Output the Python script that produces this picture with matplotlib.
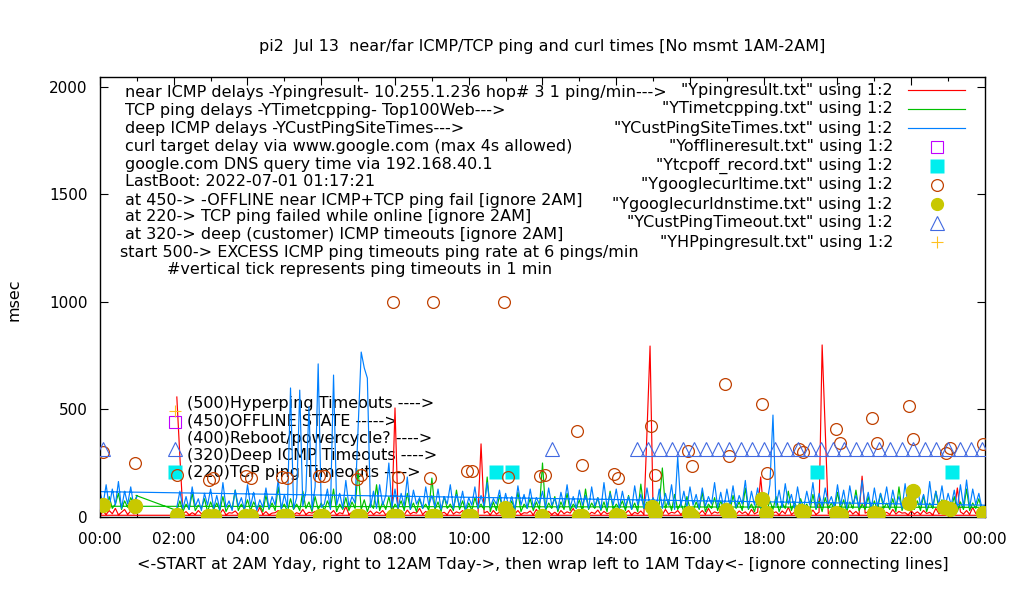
import numpy as np
import matplotlib
matplotlib.use("Agg")
import matplotlib.pyplot as plt
from matplotlib.ticker import MultipleLocator

# ---- data (hours of day, msec) ----
# dense traces sampled every 5 min: 02:05 -> 24:00, then wrap 00:00 -> 01:00
red_day = [
    558, 280, 15, 25, 10, 20, 12, 30, 15, 22, 10, 18,
    12, 25, 15, 35, 10, 20, 18, 28, 12, 22, 15, 30,
    10, 20, 15, 45, 12, 25, 10, 18, 20, 30, 12, 22,
    15, 28, 10, 20, 14, 35, 12, 22, 18, 26, 10, 20,
    12, 24, 16, 30, 10, 20, 15, 50, 12, 22, 18, 26,
    10, 20, 14, 28, 12, 24, 16, 30, 10, 22, 20, 507,
    15, 25, 10, 32, 14, 22, 18, 40, 12, 26, 15, 20,
    12, 28, 16, 22, 10, 35, 14, 24, 18, 30, 12, 22,
    15, 20, 12, 340, 18, 26, 10, 30, 14, 22, 16, 45,
    10, 24, 15, 30, 12, 20, 18, 28, 10, 35, 14, 22,
    16, 26, 12, 22, 10, 30, 15, 24, 18, 40, 12, 20,
    14, 28, 10, 22, 16, 32, 12, 26, 15, 20, 10, 30,
    12, 24, 18, 30, 10, 22, 15, 28, 12, 395, 795, 20,
    15, 26, 10, 35, 14, 22, 18, 30, 12, 24, 16, 28,
    10, 22, 15, 30, 12, 40, 14, 24, 18, 26, 10, 32,
    14, 20, 12, 28, 16, 24, 10, 35, 15, 22, 186, 26,
    12, 30, 18, 24, 10, 28, 15, 45, 12, 22, 16, 30,
    10, 26, 14, 32, 12, 22, 800, 414, 15, 28, 10, 24,
    16, 22, 12, 30, 14, 26, 10, 190, 18, 24, 12, 28,
    10, 30, 15, 22, 12, 35, 14, 26, 18, 20, 10, 28,
    14, 24, 12, 30, 16, 22, 10, 40, 15, 26, 12, 22,
    10, 28, 135, 24, 14, 30, 12, 45, 16, 22, 10, 8,
]
red_wrap = [8, 25, 12, 30, 15, 40, 10, 22, 35, 12, 28, 15, 20]

green_lead_t = [0.98]
green_lead_v = [100]
green_day = [
    30, 75, 25, 60, 35, 110, 30, 55, 40, 85, 25, 70,
    35, 65, 30, 95, 25, 55, 40, 125, 30, 60, 35, 80,
    30, 70, 40, 55, 25, 100, 35, 65, 30, 140, 40, 60,
    25, 85, 35, 60, 30, 120, 40, 70, 25, 95, 35, 65,
    30, 75, 40, 130, 25, 60, 35, 90, 30, 70, 40, 219,
    35, 80, 25, 65, 40, 150, 30, 70, 35, 95, 25, 60,
    40, 75, 30, 110, 35, 65, 25, 85, 40, 60, 30, 181,
    35, 70, 25, 95, 40, 60, 30, 125, 35, 75, 25, 65,
    30, 90, 40, 60, 35, 186, 25, 70, 30, 100, 40, 65,
    35, 75, 30, 115, 25, 60, 40, 85, 30, 70, 35, 251,
    30, 65, 40, 95, 25, 70, 35, 110, 30, 60, 40, 80,
    25, 130, 35, 65, 40, 90, 30, 70, 25, 120, 35, 60,
    40, 75, 30, 100, 35, 65, 25, 153, 40, 70, 30, 85,
    35, 60, 228, 40, 80, 30, 105, 35, 65, 25, 95, 40,
    30, 70, 35, 115, 25, 60, 40, 90, 30, 75, 35, 65,
    25, 100, 40, 70, 30, 135, 35, 60, 25, 85, 40, 110,
    30, 75, 35, 95, 25, 65, 40, 120, 30, 70, 35, 85,
    40, 60, 30, 105, 35, 75, 25, 90, 40, 65, 30, 115,
    35, 80, 25, 70, 40, 125, 30, 60, 35, 95, 25, 75,
    30, 110, 40, 65, 35, 85, 25, 140, 30, 70, 40, 90,
    35, 75, 30, 100, 25, 65, 40, 120, 35, 80, 30, 60,
    40, 95, 25, 70, 35, 130, 30, 65, 40, 85, 30, 45,
]
green_wrap = [50, 70, 30, 95, 40, 60, 110, 35, 75, 45, 90, 60, 100]

blue_day = [
    45, 120, 40, 95, 35, 140, 50, 85, 30, 110, 55, 130,
    40, 100, 35, 160, 45, 75, 30, 125, 50, 90, 35, 150,
    50, 115, 30, 80, 45, 135, 40, 95, 55, 175, 35, 105,
    45, 600, 40, 90, 590, 50, 120, 512, 35, 140, 712, 45,
    60, 130, 35, 660, 55, 110, 40, 170, 50, 95, 65, 414,
    767, 693, 646, 45, 120, 40, 150, 55, 100, 251, 45, 130,
    40, 110, 50, 186, 35, 125, 60, 90, 40, 140, 55, 100,
    45, 130, 35, 95, 60, 150, 40, 105, 50, 120, 35, 90,
    55, 140, 40, 100, 50, 160, 45, 85, 60, 125, 40, 110,
    50, 95, 35, 145, 55, 105, 40, 130, 45, 90, 60, 120,
    40, 135, 55, 85, 35, 115, 50, 150, 45, 95, 40, 125,
    55, 100, 40, 140, 50, 90, 35, 160, 45, 110, 55, 130,
    40, 120, 50, 95, 35, 145, 55, 105, 40, 135, 50, 90,
    45, 130, 40, 110, 55, 150, 35, 280, 50, 120, 45, 140,
    55, 105, 40, 135, 50, 95, 60, 160, 45, 115, 40, 130,
    50, 145, 45, 100, 60, 170, 40, 120, 55, 135, 45, 110,
    60, 150, 474, 50, 125, 45, 155, 60, 105, 40, 140, 55,
    45, 120, 55, 160, 40, 110, 50, 135, 60, 95, 45, 150,
    55, 125, 40, 145, 60, 100, 45, 170, 50, 115, 40, 135,
    50, 110, 60, 140, 45, 125, 55, 95, 40, 155, 50, 120,
    45, 135, 55, 105, 40, 165, 50, 120, 60, 145, 45, 110,
    55, 125, 40, 150, 50, 172, 45, 130, 60, 110, 40, 55,
]
blue_wrap = [118, 60, 150, 45, 130, 55, 165, 40, 120, 60, 140, 50, 95]

offline_t = [2.03]
offline_v = [442]

tcpoff_t = [2.03, 10.75, 11.16, 19.44, 23.10]
tcpoff_v = [209, 209, 209, 209, 209]

curl_t = [0.08, 0.95, 2.09, 2.96, 3.06, 3.96, 4.09, 4.94, 5.07, 5.94, 6.07,
          6.97, 7.08, 7.95, 8.08, 8.95, 9.03, 9.95, 10.09, 10.96, 11.07,
          11.93, 12.07, 12.94, 13.07, 13.94, 14.05, 14.94, 15.05, 15.95,
          16.05, 16.95, 17.06, 17.95, 18.09, 18.95, 19.06, 19.96, 20.07,
          20.94, 21.07, 21.94, 22.05, 22.94, 23.05, 23.95]
curl_v = [302, 251, 195, 172, 181, 191, 181, 186, 181, 191, 191,
          177, 195, 1000, 186, 181, 1000, 214, 214, 1000, 186,
          191, 195, 400, 242, 200, 181, 423, 195, 307,
          237, 619, 284, 526, 205, 316, 302, 409, 344,
          460, 344, 516, 363, 298, 321, 340]

dns_t = [0.07, 0.95, 2.08, 2.93, 3.10, 3.93, 4.10, 4.96, 5.08, 5.97, 6.05,
         6.97, 7.06, 7.95, 8.05, 9.00, 9.08, 9.98, 10.07, 10.98, 11.07,
         12.00, 12.99, 13.08, 14.00, 14.08, 14.97, 15.05, 15.97, 16.05,
         16.98, 17.07, 17.95, 18.05, 19.00, 19.10, 19.97, 20.10, 21.00,
         21.10, 21.94, 22.05, 22.90, 23.05, 23.95]
dns_v = [56, 51, 10, 5, 5, 5, 5, 5, 5, 5, 5,
         5, 5, 5, 5, 5, 5, 5, 5, 40, 18,
         5, 5, 5, 10, 5, 45, 18, 18, 5,
         32, 10, 83, 18, 30, 25, 18, 10, 20,
         15, 64, 120, 47, 37, 18]

custto_t = [0.08, 2.03, 12.26,
            14.56, 14.87, 15.18, 15.50, 15.81, 16.12, 16.43, 16.75, 17.06,
            17.37, 17.68, 18.00, 18.31, 18.62, 18.93, 19.25, 19.56, 19.87,
            20.18, 20.50, 20.81, 21.12, 21.43, 21.75, 22.06, 22.37, 22.68,
            23.00, 23.31, 23.62, 23.93]
custto_v = [316] * len(custto_t)

hp_t = [2.03]
hp_v = [493]

note_lines = [
    "near ICMP delays -Ypingresult- 10.255.1.236 hop# 3 1 ping/min--->",
    "TCP ping delays -YTimetcpping- Top100Web--->",
    "deep ICMP delays -YCustPingSiteTimes--->",
    "curl target delay via www.google.com (max 4s allowed)",
    "google.com DNS query time via 192.168.40.1",
    "LastBoot: 2022-07-01 01:17:21",
    "at 450-> -OFFLINE near ICMP+TCP ping fail [ignore 2AM]",
    "at 220-> TCP ping failed while online [ignore 2AM]",
    "at 320-> deep (customer) ICMP timeouts [ignore 2AM]",
    "start 500-> EXCESS ICMP ping timeouts ping rate at 6 pings/min",
    "#vertical tick represents ping timeouts in 1 min",
]
note_x = [125, 125, 125, 125, 125, 125, 125, 125, 125, 120, 167]
note_y = [92, 111, 129, 147, 164, 182, 200, 217, 235, 252, 269]

marker_labels = ["(500)Hyperping Timeouts ---->", "(450)OFFLINE STATE ----->",
                 "(400)Reboot/powercycle? ---->", "(320)Deep ICMP Timeouts ---->",
                 "(220)TCP ping Timeouts ---->"]
marker_label_v = [526, 446, 367, 284, 205]

# ---- build time axes ----
step = 5 / 60
day_t = 2 + step * np.arange(1, len(red_day) + 1)
wrap_t = step * np.arange(len(red_wrap))
red_t = np.concatenate([day_t, wrap_t])
red_v = red_day + red_wrap
green_t = np.concatenate([green_lead_t, day_t, wrap_t])
green_v = green_lead_v + green_day + green_wrap
blue_t = np.concatenate([day_t, wrap_t])
blue_v = blue_day + blue_wrap

C_RED = "#ff0000"
C_GREEN = "#00c000"
C_BLUE = "#0080ff"
C_MAG = "#c000ff"
C_CYAN = "#00eeee"
C_BROWN = "#c04000"
C_YEL = "#c8c800"
C_ROYAL = "#4169e1"
C_ORANGE = "#ffc020"

FS = 11.5

plt.rcParams["font.family"] = "DejaVu Sans"
W, H = 1020, 600
fig = plt.figure(figsize=(W / 100, H / 100), dpi=100)
L, R, T, B = 100, 985, 77, 517
ax = fig.add_axes([L / W, 1 - B / H, (R - L) / W, (B - T) / H])

# labels placed in data space (drawn below the traces)
for txt, v in zip(marker_labels, marker_label_v):
    ax.text(2.36, v, txt, fontsize=FS, va="center", ha="left", zorder=1)

lw = 0.85
ax.plot(red_t, red_v, color=C_RED, lw=lw, zorder=2)
ax.plot(green_t, green_v, color=C_GREEN, lw=lw, zorder=2)
ax.plot(blue_t, blue_v, color=C_BLUE, lw=lw, zorder=2)
ax.plot(offline_t, offline_v, ls="none", marker="s", ms=8.5, mfc="none",
        mec=C_MAG, mew=0.8, zorder=3)
ax.plot(tcpoff_t, tcpoff_v, ls="none", marker="s", ms=10, mfc=C_CYAN,
        mec="none", zorder=3)
ax.plot(curl_t, curl_v, ls="none", marker="o", ms=8.5, mfc="none",
        mec=C_BROWN, mew=0.9, zorder=3)
ax.plot(dns_t, dns_v, ls="none", marker="o", ms=10, mfc=C_YEL,
        mec=C_YEL, zorder=3)
ax.plot(custto_t, custto_v, ls="none", marker="^", ms=10.5, mfc="none",
        mec=C_ROYAL, mew=0.8, zorder=3)
ax.plot(hp_t, hp_v, ls="none", marker="+", ms=9, mec=C_ORANGE, mew=0.8,
        zorder=3)

ax.set_xlim(0, 24)
ax.set_ylim(0, 2046)
ax.xaxis.set_minor_locator(MultipleLocator(1))
ax.yaxis.set_major_locator(MultipleLocator(500))
ax.set_xticks(range(0, 25, 2))
ax.set_xticklabels(["%02d:00" % (h % 24) for h in range(0, 25, 2)])
ax.tick_params(which="major", direction="in", length=6, width=0.8,
               top=True, right=True, labelsize=11, pad=9)
ax.tick_params(which="minor", direction="in", length=3, width=0.8,
               top=True, right=False, left=False)
ax.tick_params(axis="x", pad=11)
for s in ax.spines.values():
    s.set_linewidth(1.0)

# notes at upper left
for txt, x, y in zip(note_lines, note_x, note_y):
    ax.text((x - L) / (R - L), (B - y) / (B - T), txt, transform=ax.transAxes,
            fontsize=FS, ha="left", va="center", zorder=1)

# key at upper right
key = [
    ('"Ypingresult.txt" using 1:2', dict(color=C_RED, lw=lw)),
    ('"YTimetcpping.txt" using 1:2', dict(color=C_GREEN, lw=lw)),
    ('"YCustPingSiteTimes.txt" using 1:2', dict(color=C_BLUE, lw=lw)),
    ('"Yofflineresult.txt" using 1:2', dict(ls="none", marker="s", ms=8.5, mfc="none", mec=C_MAG, mew=0.8)),
    ('"Ytcpoff_record.txt" using 1:2', dict(ls="none", marker="s", ms=9.5, mfc=C_CYAN, mec="none")),
    ('"Ygooglecurltime.txt" using 1:2', dict(ls="none", marker="o", ms=8.5, mfc="none", mec=C_BROWN, mew=0.9)),
    ('"Ygooglecurldnstime.txt" using 1:2', dict(ls="none", marker="o", ms=8.5, mfc=C_YEL, mec=C_YEL)),
    ('"YCustPingTimeout.txt" using 1:2', dict(ls="none", marker="^", ms=10.5, mfc="none", mec=C_ROYAL, mew=0.8)),
    ('"YHPpingresult.txt" using 1:2', dict(ls="none", marker="+", ms=9, mec=C_ORANGE, mew=0.8)),
]
key_y = [90, 109, 128, 147, 166, 185, 204, 223, 242]
for (lab, st), y in zip(key, key_y):
    fy = (B - y) / (B - T)
    ax.text((893 - L) / (R - L), fy, lab, transform=ax.transAxes,
            fontsize=FS, ha="right", va="center")
    if st.get("ls") == "none":
        ax.plot([(937 - L) / (R - L)], [fy], transform=ax.transAxes, clip_on=False, **st)
    else:
        ax.plot([(908 - L) / (R - L), (965 - L) / (R - L)], [fy, fy],
                transform=ax.transAxes, clip_on=False, **st)

fig.text(542 / W, 1 - 46 / H,
         "pi2  Jul 13  near/far ICMP/TCP ping and curl times [No msmt 1AM-2AM]",
         fontsize=FS, ha="center", va="center")
fig.text(543 / W, 1 - 565 / H,
         "<-START at 2AM Yday, right to 12AM Tday->, then wrap left to 1AM Tday<- [ignore connecting lines]",
         fontsize=FS, ha="center", va="center")
fig.text(14 / W, 1 - 300 / H, "msec", fontsize=FS, rotation=90,
         ha="center", va="center")

fig.savefig("out.png", dpi=100)
